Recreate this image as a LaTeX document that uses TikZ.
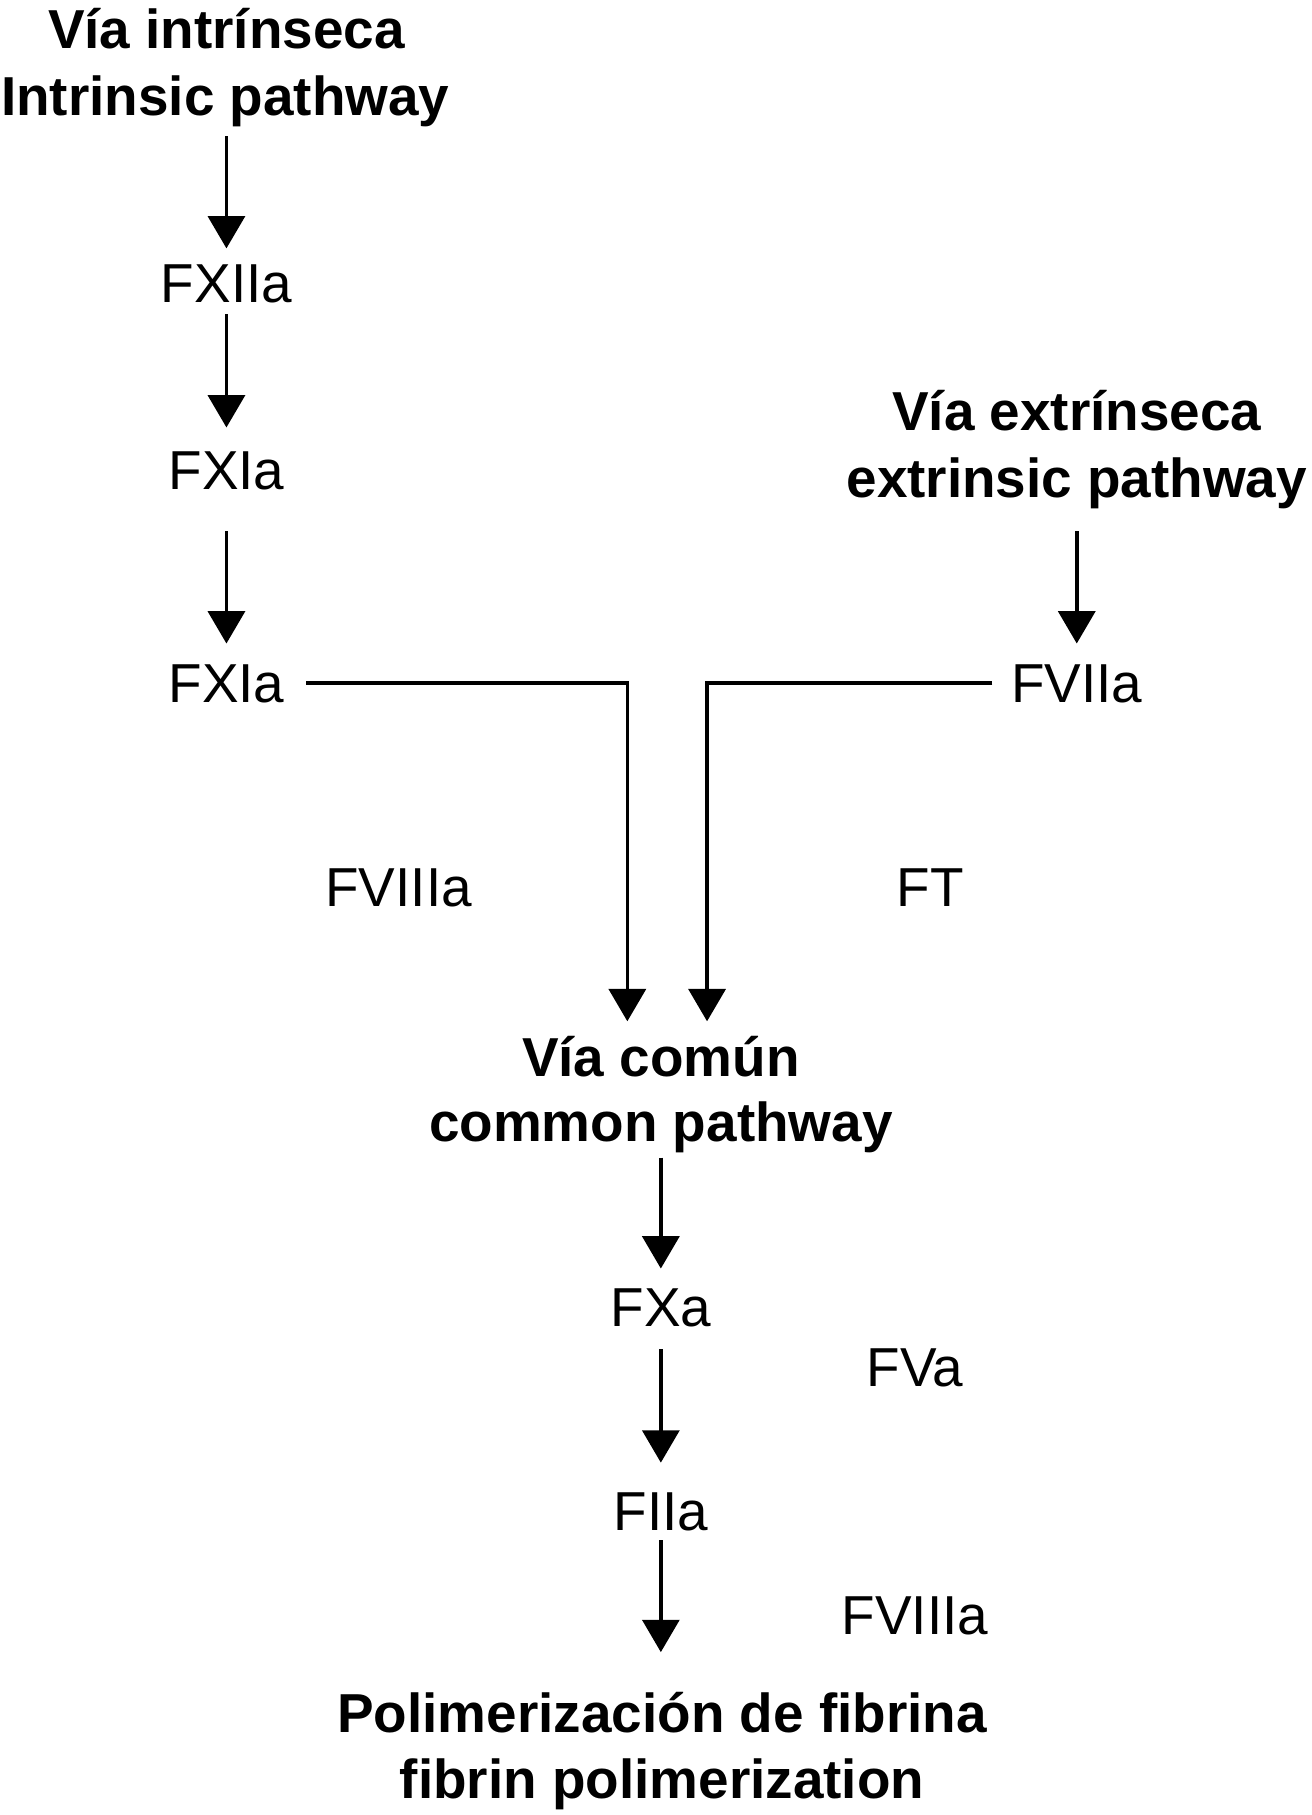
\documentclass[tikz,border=0pt]{standalone}
\usepackage{fontspec}
\setmainfont{Liberation Sans}
\usetikzlibrary{arrows.meta}
\begin{document}
\begin{tikzpicture}[x=1pt,y=-1pt,
  lbl/.style={anchor=base,inner sep=0pt,font=\fontsize{47.5}{57}\selectfont},
  ttl/.style={lbl,font=\fontsize{47.5}{57}\selectfont\bfseries},
  arr/.style={line width=3pt,-{Triangle[width=32pt,length=28pt]}},
  ln/.style={line width=3pt}]
\useasboundingbox[fill=white] (0,0) rectangle (1135,1571);
% nodes
\node[ttl] (t1a) at (196,42) {Vía intrínseca};
\node[ttl] (t1b) at (195,100) {Intrinsic pathway};
\node[lbl] (fxiia) at (196,262) {FXIIa};
\node[lbl] (fxia1) at (196,424) {FXIa};
\node[lbl] (fxia2) at (196,608) {FXIa};
\node[ttl] (t2a) at (932,373) {Vía extrínseca};
\node[ttl] (t2b) at (932,431) {extrinsic pathway};
\node[lbl] (fviia) at (932,608) {FVIIa};
\node[lbl] (fviiia1) at (345,785) {FVIIIa};
\node[lbl] (ft) at (805,785) {FT};
\node[ttl] (t3a) at (572,932) {Vía común};
\node[ttl] (t3b) at (572,988) {common pathway};
\node[lbl] (fxa) at (572,1148) {FXa};
\node[lbl] (fva) at (792,1200) {FVa};
\node[lbl] (fiia) at (572,1325) {FIIa};
\node[lbl] (fviiia2) at (792,1415) {FVIIIa};
\node[ttl] (t4a) at (573,1500) {Polimerización de fibrina};
\node[ttl] (t4b) at (573,1557) {fibrin polimerization};
% connectors
\draw[arr] ([xshift=1pt,yshift=-18pt]t1b.base) -- ([yshift=47pt]fxiia.base);
\draw[arr] ([yshift=-10pt]fxiia.base) -- ([yshift=54pt]fxia1.base);
\draw[arr] ([yshift=-36pt]fxia1.base) -- ([yshift=51pt]fxia2.base);
\draw[arr] ([yshift=-29pt]t2b.base) -- ([yshift=51pt]fviia.base);
\draw[arr] ([xshift=69pt,yshift=17pt]fxia2.base) -| ([xshift=-29pt,yshift=48pt]t3a.base);
\draw[arr] ([xshift=-73pt,yshift=17pt]fviia.base) -| ([xshift=40pt,yshift=48pt]t3a.base);
\draw[arr] ([yshift=-14pt]t3b.base) -- ([yshift=50pt]fxa.base);
\draw[arr] ([yshift=-20pt]fxa.base) -- ([yshift=59pt]fiia.base);
\draw[arr] ([yshift=-8pt]fiia.base) -- ([xshift=-1pt,yshift=70pt]t4a.base);
\end{tikzpicture}
\end{document}
